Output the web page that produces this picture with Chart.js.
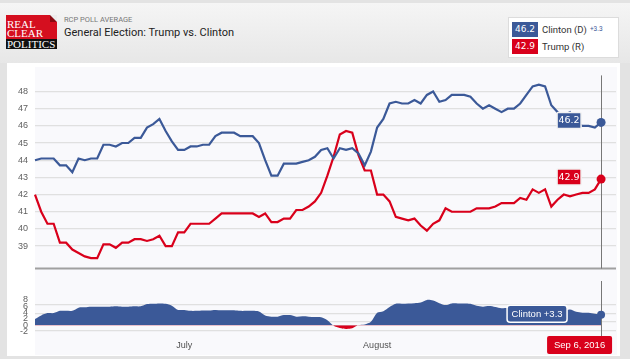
<!DOCTYPE html>
<html>
<head>
<meta charset="utf-8">
<script src="https://cdn.jsdelivr.net/npm/chart.js@4.4.1/dist/chart.umd.min.js"></script>
<style>
  html, body { margin: 0; padding: 0; }
  body { width: 630px; height: 359px; background: #e3e3e3; position: relative; overflow: hidden; font-family: Roboto, "Liberation Sans", Arial, sans-serif; }
  #top { position: absolute; left: 0; top: 3px; width: 630px; height: 60px; background: linear-gradient(#f5f5f5, #e7e7e7); }
  #logo { position: absolute; left: 6px; top: 15px; width: 51px; height: 34px; font-family: "Liberation Serif", "DejaVu Serif", serif; color: #fff; font-size: 11px; line-height: 9.5px; }
  #logo .red { position: absolute; left: 0; top: 0; width: 51px; height: 24px; background: #d50f1f; }
  #logo .red:after { content: ""; position: absolute; right: 0; top: 0; border-style: solid; border-width: 0 7px 7px 0; border-color: transparent #ececec #8a0a12 transparent; }
  #logo .blk { position: absolute; left: 0; top: 24px; width: 51px; height: 10px; background: #111; }
  #logo span { position: absolute; left: 1px; white-space: nowrap; }
  #sub { position: absolute; left: 64px; top: 15px; font-size: 7.5px; color: #777; }
  #title { position: absolute; left: 64px; top: 26px; font-size: 11px; color: #222; }
  #legend { position: absolute; left: 508px; top: 17px; width: 111px; height: 41px; background: #fff; border: 1px solid #dcdcdc; box-sizing: border-box; }
  .row { position: absolute; left: 3px; height: 15px; font-size: 9.5px; color: #333; white-space: nowrap; }
  .tag { display: inline-block; width: 26px; height: 15px; line-height: 15px; text-align: center; color: #fff; font-family: "DejaVu Sans", sans-serif; font-size: 9px; vertical-align: top; margin-right: 4px; }
  .row .nm { line-height: 15px; vertical-align: top; }
  .row .chg { font-size: 6.5px; color: #3b5998; margin-left: 3px; vertical-align: top; line-height: 15px; }
  #box { position: absolute; left: 7px; top: 63px; width: 613px; height: 293px; background: #fff; }
  #plotbg { position: absolute; left: 35px; top: 67px; width: 582px; height: 288px; background: #f9f9fc; }
  canvas { position: absolute; left: 0; }
</style>
</head>
<body>
<div id="top"></div>
<div id="logo">
  <div class="red"><span style="top:5px">REAL</span><span style="top:14px">CLEAR</span></div>
  <div class="blk"><span style="top:1px">POLITICS</span></div>
</div>
<div id="sub">RCP POLL AVERAGE</div>
<div id="title">General Election: Trump vs. Clinton</div>
<div id="legend">
  <div class="row" style="top:4px"><span class="tag" id="tagC" style="background:#3b5998"></span><span class="nm">Clinton (D)</span><span class="chg" id="chgC"></span></div>
  <div class="row" style="top:21px"><span class="tag" id="tagT" style="background:#d9001b"></span><span class="nm">Trump (R)</span></div>
</div>
<div id="box"></div>
<div id="plotbg"></div>
<canvas id="main" width="630" height="216" style="top:65px"></canvas>
<canvas id="spread" width="630" height="74" style="top:281px"></canvas>
<script>
// daily poll average, Jun 7 -> Sep 6 2016 (day index 0..91)
const clinton = [44.0, 44.1, 44.1, 44.1, 43.7, 43.7, 43.3, 44.1, 44.0, 44.1,
  44.1, 44.9, 44.9, 44.8, 45.0, 45.0, 45.3, 45.3, 45.9, 46.1,
  46.4, 45.7, 45.1, 44.6, 44.6, 44.8, 44.8, 44.9, 44.9, 45.4,
  45.6, 45.6, 45.6, 45.4, 45.4, 45.4, 45.0, 44.0, 43.1, 43.1,
  43.8, 43.8, 43.8, 43.9, 44.0, 44.2, 44.6, 44.7, 44.1, 44.7,
  44.6, 44.7, 44.4, 43.7, 44.5, 45.9, 46.4, 47.3, 47.4, 47.3,
  47.3, 47.5, 47.3, 47.8, 48.0, 47.4, 47.5, 47.8, 47.8, 47.8,
  47.7, 47.3, 47.0, 47.2, 47.0, 46.8, 47.0, 47.0, 47.3, 47.8,
  48.3, 48.4, 48.3, 47.2, 46.8, 46.6, 46.8, 46.2, 46.0, 46.0,
  45.9, 46.2];
const trump = [42.0, 41.0, 40.3, 40.3, 39.2, 39.2, 38.8, 38.6, 38.4, 38.3,
  38.3, 39.1, 39.1, 38.9, 39.2, 39.2, 39.4, 39.4, 39.3, 39.4,
  39.6, 39.0, 39.0, 39.8, 39.8, 40.3, 40.3, 40.3, 40.3, 40.6,
  40.9, 40.9, 40.9, 40.9, 40.9, 40.9, 40.7, 40.9, 40.4, 40.4,
  40.6, 40.6, 41.1, 41.1, 41.3, 41.6, 42.1, 43.1, 44.2, 45.5,
  45.7, 45.6, 44.3, 43.4, 43.4, 42.0, 42.0, 41.6, 40.7, 40.6,
  40.5, 40.6, 40.2, 39.9, 40.3, 40.5, 41.2, 41.0, 41.0, 41.0,
  41.0, 41.2, 41.2, 41.2, 41.3, 41.5, 41.5, 41.5, 41.8, 41.7,
  42.3, 42.1, 42.3, 41.3, 41.7, 42.0, 41.9, 42.0, 42.1, 42.1,
  42.3, 42.9];
// Clinton lead (spread)
const spread = [2.0, 3.1, 3.8, 3.8, 4.5, 4.5, 4.5, 5.5, 5.6, 5.8,
  5.8, 5.8, 5.8, 5.9, 5.8, 5.8, 5.9, 5.9, 6.6, 6.7,
  6.8, 6.7, 6.1, 4.8, 4.8, 4.5, 4.5, 4.6, 4.6, 4.8,
  4.7, 4.7, 4.7, 4.5, 4.5, 4.5, 4.3, 3.1, 2.7, 2.7,
  3.2, 3.2, 2.7, 2.8, 2.7, 2.6, 2.5, 1.6, -0.1, -0.8,
  -1.1, -0.9, 0.1, 0.3, 1.1, 3.9, 4.4, 5.7, 6.7, 6.7,
  6.8, 6.9, 7.1, 7.9, 7.7, 6.9, 6.3, 6.8, 6.8, 6.8,
  6.7, 6.1, 5.8, 6.0, 5.7, 5.3, 5.5, 5.5, 5.5, 6.1,
  6.0, 6.3, 6.0, 5.9, 5.1, 4.6, 4.9, 4.2, 3.9, 3.9,
  3.6, 3.3];
const monthTicks = [24, 55];
const monthLabels = ['July', 'August'];
const lastDateLabel = 'Sep 6, 2016';
const pollTicks = [39, 40, 41, 42, 43, 44, 45, 46, 47, 48];
const spreadTicks = [-2, 0, 2, 4, 6, 8];
const spreadGrid = [6.4, 3.75, 1.1, -1.65];

const BLUE = '#3b5998';
const RED = '#d9001b';
const last = clinton.length - 1;
const XMAX = 93.4;

Chart.defaults.font.family = "'Liberation Sans', Arial, sans-serif";
Chart.defaults.color = '#606060';

document.getElementById('tagC').textContent = clinton[last].toFixed(1);
document.getElementById('tagT').textContent = trump[last].toFixed(1);
document.getElementById('chgC').textContent = '+' + spread[last].toFixed(1);

const pts = arr => arr.map((v, i) => ({ x: i, y: v }));
const endDot = r => ctx => ctx.dataIndex === last ? r : 0;

function roundBox(ctx, x, y, w, h, r, fill, stroke) {
  ctx.beginPath();
  ctx.roundRect(x, y, w, h, r);
  ctx.fillStyle = fill;
  ctx.fill();
  if (stroke) { ctx.lineWidth = 1.5; ctx.strokeStyle = stroke; ctx.stroke(); }
}

const mainDeco = {
  id: 'mainDeco',
  beforeDatasetsDraw(chart) {
    const ctx = chart.ctx, a = chart.chartArea;
    const x = chart.scales.x.getPixelForValue(last);
    ctx.save();
    ctx.strokeStyle = '#a0a0a0'; ctx.lineWidth = 2;
    ctx.beginPath(); ctx.moveTo(a.left, a.bottom); ctx.lineTo(a.right, a.bottom); ctx.stroke();
    ctx.strokeStyle = '#777'; ctx.lineWidth = 1;
    ctx.beginPath(); ctx.moveTo(Math.round(x) + 0.5, a.top - 2); ctx.lineTo(Math.round(x) + 0.5, a.bottom); ctx.stroke();
    ctx.restore();
  },
  afterDatasetsDraw(chart) {
    const ctx = chart.ctx;
    ctx.save();
    chart.data.datasets.forEach((ds, i) => {
      const p = chart.getDatasetMeta(i).data[last];
      const w = 24, h = 16;
      roundBox(ctx, p.x - 20 - w, p.y - 2 - h / 2, w, h, 1, ds.borderColor, '#f2f2f2');
      ctx.fillStyle = '#fff';
      ctx.font = "9.5px 'DejaVu Sans', sans-serif";
      ctx.textAlign = 'center'; ctx.textBaseline = 'middle';
      ctx.fillText(ds.data[last].y.toFixed(1), p.x - 20 - w / 2, p.y - 1.5);
    });
    ctx.restore();
  }
};

new Chart(document.getElementById('main'), {
  type: 'line',
  data: {
    datasets: [
      { label: 'Clinton (D)', data: pts(clinton), borderColor: BLUE, backgroundColor: BLUE, borderWidth: 2.2,
        pointRadius: endDot(4.5), pointBorderWidth: 0, pointBackgroundColor: BLUE, tension: 0 },
      { label: 'Trump (R)', data: pts(trump), borderColor: RED, backgroundColor: RED, borderWidth: 2.2,
        pointRadius: endDot(4.5), pointBorderWidth: 0, pointBackgroundColor: RED, tension: 0 }
    ]
  },
  options: {
    responsive: false,
    animation: false,
    clip: false,
    layout: { padding: { top: 2, right: 14, bottom: 1, left: 0 } },
    plugins: { legend: { display: false }, tooltip: { enabled: false } },
    scales: {
      x: { type: 'linear', min: 0, max: XMAX, display: false },
      y: {
        min: 37.69, max: 48.82,
        afterBuildTicks: s => { s.ticks = pollTicks.map(v => ({ value: v })); },
        afterFit: s => { s.width = 35; },
        grid: { color: '#e0e0e0', lineWidth: 1.3, drawTicks: false },
        border: { display: false },
        ticks: { padding: 7, font: { size: 9 }, color: '#606060' }
      }
    }
  },
  plugins: [mainDeco]
});

const spreadDeco = {
  id: 'spreadDeco',
  beforeDatasetsDraw(chart) {
    const ctx = chart.ctx, a = chart.chartArea;
    const x = chart.scales.x.getPixelForValue(last);
    ctx.save();
    ctx.strokeStyle = '#777'; ctx.lineWidth = 1;
    ctx.beginPath(); ctx.moveTo(Math.round(x) + 0.5, 0); ctx.lineTo(Math.round(x) + 0.5, a.bottom); ctx.stroke();
    ctx.restore();
  },
  afterDatasetsDraw(chart) {
    const ctx = chart.ctx, a = chart.chartArea;
    const p = chart.getDatasetMeta(0).data[last];
    ctx.save();
    const w = 60, h = 17;
    roundBox(ctx, p.x - 34 - w, p.y - 1 - h / 2, w, h, 3, BLUE, '#fff');
    ctx.fillStyle = '#fff';
    ctx.font = "9.5px 'Liberation Sans', Arial, sans-serif";
    ctx.textAlign = 'center'; ctx.textBaseline = 'middle';
    ctx.fillText('Clinton +' + spread[last].toFixed(1), p.x - 34 - w / 2, p.y - 0.5);
    // date flag
    const dw = 65, dh = 18;
    roundBox(ctx, p.x + 11 - dw, a.bottom, dw, dh, 2, RED);
    ctx.fillStyle = '#fff';
    ctx.fillText(lastDateLabel, p.x + 11 - dw / 2, a.bottom + dh / 2 + 0.5);
    ctx.restore();
  }
};

new Chart(document.getElementById('spread'), {
  type: 'line',
  data: {
    datasets: [
      { label: 'Spread', data: pts(spread), borderColor: BLUE, borderWidth: 0,
        fill: { target: 'origin', above: BLUE, below: RED },
        pointRadius: endDot(4), pointBorderWidth: 0, pointBackgroundColor: BLUE, tension: 0.3 }
    ]
  },
  options: {
    responsive: false,
    animation: false,
    clip: false,
    layout: { padding: { top: 1, right: 14, bottom: 0, left: 0 } },
    plugins: { legend: { display: false }, tooltip: { enabled: false } },
    scales: {
      x: {
        type: 'linear', min: 0, max: XMAX,
        afterBuildTicks: s => { s.ticks = monthTicks.map(v => ({ value: v })); },
        afterFit: s => { s.height = 19; },
        grid: { display: false, drawTicks: false },
        border: { display: false },
        ticks: { padding: 4, font: { size: 9 }, color: '#505050', maxRotation: 0,
          callback: v => monthLabels[monthTicks.indexOf(v)] }
      },
      g: {
        position: 'left', min: -3.3, max: 10.2,
        afterBuildTicks: s => { s.ticks = spreadGrid.map(v => ({ value: v })); },
        afterFit: s => { s.width = 0; },
        grid: { color: '#e0e0e0', lineWidth: 1.3, drawTicks: false },
        border: { display: false },
        ticks: { display: false }
      },
      y: {
        position: 'left', min: -3.3, max: 10.2,
        afterBuildTicks: s => { s.ticks = spreadTicks.map(v => ({ value: v })); },
        afterFit: s => { s.width = 35; },
        grid: { display: false, drawTicks: false },
        border: { display: false },
        ticks: { padding: 7, autoSkip: false, font: { size: 9, lineHeight: 1 }, color: '#606060' }
      }
    }
  },
  plugins: [spreadDeco]
});
</script>
</body>
</html>
